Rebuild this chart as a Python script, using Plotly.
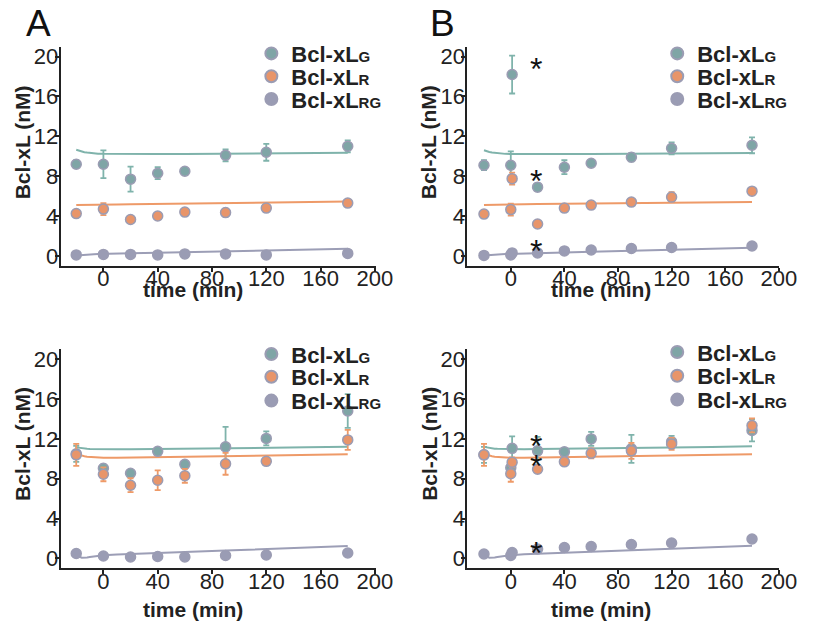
import plotly.graph_objects as go

# ---------------- data ----------------
times_AC = [-20, 0, 20, 40, 60, 90, 120, 180]
times_BD = [-20, 0, 1, 20, 40, 60, 90, 120, 180]
fit_t = [-20, -18, -16, -14, -12, -10, -7, -4, 0, 10, 20, 40, 60, 90, 120, 150, 180]

A_G = [9.2, 9.2, 7.7, 8.3, 8.5, 10.1, 10.4, 11.0]
A_G_err = [0.4, 1.4, 1.25, 0.6, 0.2, 0.6, 0.85, 0.6]
A_R = [4.25, 4.7, 3.65, 4.0, 4.4, 4.35, 4.8, 5.3]
A_R_err = [0.3, 0.6, 0.2, 0.2, 0.2, 0.4, 0.3, 0.2]
A_RG = [0.1, 0.15, 0.15, 0.1, 0.2, 0.2, 0.1, 0.25]
A_RG_err = [0.1, 0.1, 0.1, 0.1, 0.1, 0.1, 0.1, 0.1]

B_G = [9.1, 9.1, 18.2, 6.9, 8.9, 9.3, 9.9, 10.8, 11.1]
B_G_err = [0.5, 1.4, 1.9, 0.4, 0.7, 0.2, 0.4, 0.6, 0.8]
B_R = [4.2, 4.65, 7.75, 3.2, 4.8, 5.1, 5.4, 5.9, 6.5]
B_R_err = [0.3, 0.6, 0.6, 0.2, 0.2, 0.2, 0.3, 0.5, 0.3]
B_RG = [0.05, 0.1, 0.3, 0.3, 0.5, 0.6, 0.75, 0.85, 1.0]
B_RG_err = [0.1, 0.1, 0.1, 0.1, 0.1, 0.1, 0.1, 0.1, 0.1]

C_G = [10.5, 9.05, 8.55, 10.75, 9.45, 11.2, 12.05, 14.8]
C_G_err = [0.8, 0.4, 0.3, 0.2, 0.2, 2.0, 0.7, 1.7]
C_R = [10.4, 8.45, 7.35, 7.85, 8.3, 9.5, 9.75, 11.9]
C_R_err = [1.1, 0.7, 0.7, 1.0, 0.7, 1.1, 0.3, 1.0]
C_RG = [0.5, 0.25, 0.15, 0.2, 0.15, 0.3, 0.35, 0.55]
C_RG_err = [0.1, 0.1, 0.1, 0.1, 0.1, 0.1, 0.1, 0.1]

D_G = [10.4, 9.1, 11.05, 10.8, 10.7, 12.0, 11.0, 11.7, 12.85]
D_G_err = [0.8, 0.3, 1.2, 1.4, 0.3, 0.7, 1.4, 0.6, 1.1]
D_R = [10.4, 8.5, 9.65, 8.95, 9.7, 10.55, 10.8, 11.5, 13.35]
D_R_err = [1.1, 0.8, 0.5, 0.2, 0.3, 0.5, 0.8, 0.6, 0.7]
D_RG = [0.45, 0.3, 0.6, 0.95, 1.1, 1.2, 1.4, 1.55, 1.95]
D_RG_err = [0.1, 0.1, 0.1, 0.1, 0.1, 0.1, 0.1, 0.1, 0.1]

A_G_fit = [10.65, 10.55, 10.47, 10.41, 10.37, 10.33, 10.29, 10.26, 10.24, 10.22, 10.22, 10.22, 10.23, 10.25, 10.28, 10.31, 10.35]
A_R_fit = [5.1, 5.1, 5.1, 5.11, 5.11, 5.12, 5.12, 5.13, 5.14, 5.16, 5.18, 5.21, 5.25, 5.3, 5.35, 5.4, 5.45]
A_RG_fit = [0.05, 0.08, 0.1, 0.12, 0.14, 0.15, 0.17, 0.18, 0.2, 0.23, 0.26, 0.32, 0.38, 0.46, 0.55, 0.63, 0.72]
B_G_fit = [10.6, 10.5, 10.43, 10.38, 10.34, 10.3, 10.27, 10.24, 10.22, 10.21, 10.21, 10.21, 10.22, 10.24, 10.27, 10.3, 10.33]
B_R_fit = [5.12, 5.12, 5.12, 5.13, 5.13, 5.14, 5.14, 5.15, 5.16, 5.18, 5.2, 5.23, 5.26, 5.3, 5.34, 5.38, 5.42]
B_RG_fit = [0.05, 0.08, 0.1, 0.12, 0.14, 0.16, 0.17, 0.18, 0.2, 0.24, 0.28, 0.35, 0.41, 0.5, 0.59, 0.7, 0.82]
C_G_fit = [11.15, 11.1, 11.06, 11.03, 11.0, 10.98, 10.97, 10.96, 10.95, 10.95, 10.96, 10.98, 11.0, 11.05, 11.1, 11.15, 11.22]
C_R_fit = [10.5, 10.4, 10.32, 10.26, 10.22, 10.19, 10.16, 10.13, 10.1, 10.1, 10.12, 10.15, 10.2, 10.27, 10.33, 10.4, 10.45]
C_RG_fit = [0.45, 0.2, 0.08, 0.06, 0.1, 0.15, 0.2, 0.26, 0.32, 0.4, 0.46, 0.56, 0.65, 0.8, 0.95, 1.1, 1.25]
D_G_fit = [11.2, 11.14, 11.09, 11.05, 11.02, 11.0, 10.99, 10.98, 10.97, 10.97, 10.98, 11.0, 11.03, 11.08, 11.13, 11.19, 11.25]
D_R_fit = [10.5, 10.4, 10.32, 10.26, 10.22, 10.19, 10.16, 10.13, 10.1, 10.1, 10.12, 10.15, 10.2, 10.27, 10.33, 10.4, 10.47]
D_RG_fit = [0.45, 0.2, 0.08, 0.06, 0.1, 0.15, 0.21, 0.27, 0.33, 0.42, 0.48, 0.58, 0.67, 0.82, 0.97, 1.12, 1.27]

# asterisk positions (time, level)
B_star_t = [13, 13, 13]
B_star_y = [19.2, 7.95, 0.9]
D_star_t = [13, 13, 13]
D_star_y = [11.7, 9.7, 0.95]

x_ticks = [0, 40, 80, 120, 160, 200]
y_ticks = [0, 4, 8, 12, 16, 20]
series_names = ["G", "R", "RG"]

# ---------------- style ----------------
FONT = "Liberation Sans, Arial, sans-serif"
LINE_COL = {"G": "#7fb3ab", "R": "#ee9a68", "RG": "#9c9eb6"}
FILL_COL = {"G": "#7fa5a6", "R": "#e8956a", "RG": "#9a9cb4"}
EDGE = "#9b9cb3"

panels = {
    1: dict(t=times_AC, G=(A_G, A_G_err, A_G_fit), R=(A_R, A_R_err, A_R_fit), RG=(A_RG, A_RG_err, A_RG_fit),
            xdom=[62 / 819, 384 / 819], ydom=[1 - 266 / 628, 1 - 45 / 628], xr=[-31.5, 200.5]),
    2: dict(t=times_BD, G=(B_G, B_G_err, B_G_fit), R=(B_R, B_R_err, B_R_fit), RG=(B_RG, B_RG_err, B_RG_fit),
            xdom=[478 / 819, 797 / 819], ydom=[1 - 266 / 628, 1 - 45 / 628], xr=[-32.3, 200.5]),
    3: dict(t=times_AC, G=(C_G, C_G_err, C_G_fit), R=(C_R, C_R_err, C_R_fit), RG=(C_RG, C_RG_err, C_RG_fit),
            xdom=[62 / 819, 384 / 819], ydom=[1 - 571 / 628, 1 - 350 / 628], xr=[-31.5, 200.5]),
    4: dict(t=times_BD, G=(D_G, D_G_err, D_G_fit), R=(D_R, D_R_err, D_R_fit), RG=(D_RG, D_RG_err, D_RG_fit),
            xdom=[478 / 819, 797 / 819], ydom=[1 - 571 / 628, 1 - 350 / 628], xr=[-32.3, 200.5]),
}

# legend item anchor positions in pixels (left x, item centre y)
legend_xy = {
    1: [(257, 52), (257, 75), (257, 98)],
    2: [(672, 52), (672, 75), (672, 98)],
    3: [(257, 355), (257, 378), (257, 402)],
    4: [(672, 353), (672, 377), (672, 401)],
}

fig = go.Figure()
layout = dict(
    width=819, height=628, margin=dict(l=0, r=0, t=0, b=0),
    paper_bgcolor="white", plot_bgcolor="white",
    font=dict(family=FONT, color="#222222"),
)

for i, p in panels.items():
    xa = "x" if i == 1 else f"x{i}"
    ya = "y" if i == 1 else f"y{i}"
    for s in series_names:
        fig.add_trace(go.Scatter(x=fit_t, y=p[s][2], mode="lines", xaxis=xa, yaxis=ya,
                                 line=dict(color=LINE_COL[s], width=2),
                                 showlegend=False, hoverinfo="skip"))
    for j, s in enumerate(series_names):
        k = (i - 1) * 3 + j + 1
        leg = "legend" if k == 1 else f"legend{k}"
        vals, errs, _ = p[s]
        label = f"<b>Bcl-xL<span style='font-size:15px'>{s}</span></b>"
        fig.add_trace(go.Scatter(
            x=p["t"], y=vals, mode="markers", xaxis=xa, yaxis=ya, name=label, legend=leg,
            marker=dict(size=10, color=FILL_COL[s], line=dict(color=EDGE, width=1.5)),
            error_y=dict(type="data", array=errs, visible=True, color=LINE_COL[s], thickness=1.8, width=3),
        ))
        lx, ly = legend_xy[i][j]
        layout[leg] = dict(x=lx / 819, y=1 - ly / 628, xanchor="left", yanchor="middle",
                           bgcolor="rgba(0,0,0,0)", font=dict(family=FONT, size=22, color="#222222"),
                           itemsizing="constant", borderwidth=0)

axis_common = dict(showgrid=False, zeroline=False, showline=True, linecolor="#222222", linewidth=2,
                   ticks="outside", ticklen=4, tickwidth=1.5, tickcolor="#222222",
                   tickfont=dict(family=FONT, size=22, color="#222222"))

annotations = []
for i, p in panels.items():
    xk = "xaxis" if i == 1 else f"xaxis{i}"
    yk = "yaxis" if i == 1 else f"yaxis{i}"
    ya = "y" if i == 1 else f"y{i}"
    xa = "x" if i == 1 else f"x{i}"
    layout[xk] = dict(axis_common, domain=p["xdom"], range=p["xr"], tickvals=x_ticks, anchor=ya,
                      ticklabelstandoff=-12)
    layout[yk] = dict(axis_common, domain=p["ydom"], range=[-1, 21], tickvals=y_ticks, anchor=xa,
                      ticklabelstandoff=-8)
    xc = (p["xdom"][0] * 819) + (197.5 - 62 if i in (1, 3) else 614 - 478)
    yb = 290 if i in (1, 2) else 612
    annotations.append(dict(text="<b>time (min)</b>", x=xc / 819, y=1 - yb / 628, xref="paper", yref="paper",
                            showarrow=False, xanchor="center", yanchor="middle",
                            font=dict(family=FONT, size=21, color="#222222")))
    yc = 141 if i in (1, 2) else 445
    xt = 23 if i in (1, 3) else 23 + 416
    annotations.append(dict(text="<b>Bcl-xL (nM)</b>", x=xt / 819, y=1 - yc / 628, xref="paper", yref="paper",
                            showarrow=False, textangle=-90, xanchor="center", yanchor="middle",
                            font=dict(family=FONT, size=21, color="#222222")))

annotations.append(dict(text="A", x=25 / 819, y=1 - 22 / 628, xref="paper", yref="paper", showarrow=False,
                        xanchor="left", yanchor="middle", font=dict(family=FONT, size=37, color="#111111")))
annotations.append(dict(text="B", x=438 / 819, y=1 - 22 / 628, xref="paper", yref="paper", showarrow=False,
                        xanchor="left", yanchor="middle", font=dict(family=FONT, size=37, color="#111111")))

for xs, ys, xa, ya in [(B_star_t, B_star_y, "x2", "y2"), (D_star_t, D_star_y, "x4", "y4")]:
    for xv, yv in zip(xs, ys):
        annotations.append(dict(text="*", x=xv, y=yv, xref=xa, yref=ya, showarrow=False,
                                xanchor="left", yanchor="middle", yshift=-4,
                                font=dict(family=FONT, size=32, color="#111111")))

layout["annotations"] = annotations
fig.update_layout(**layout)
fig.write_html("out.html")
